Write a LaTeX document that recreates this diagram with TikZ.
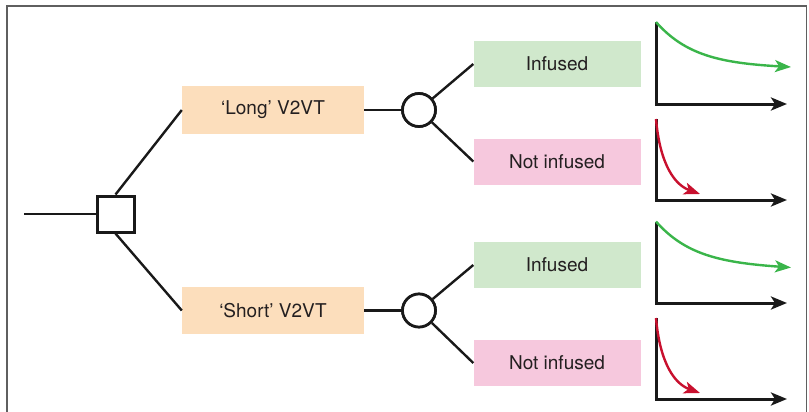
\documentclass[tikz,border=0pt]{standalone}
\usepackage{fontspec}
\setmainfont{TeX Gyre Heros}
\usetikzlibrary{arrows.meta}
\definecolor{framec}{RGB}{95,95,95}
\definecolor{txt}{RGB}{35,31,32}
\definecolor{peach}{RGB}{252,222,188}
\definecolor{boxgreen}{RGB}{208,232,204}
\definecolor{boxpink}{RGB}{246,200,221}
\definecolor{curvegreen}{RGB}{58,181,74}
\definecolor{curvered}{RGB}{200,16,46}
\tikzset{
  optbox/.style={fill=peach, draw=none, minimum width=182pt, minimum height=47pt, inner sep=0pt, text=txt, font=\fontsize{19}{22}\selectfont},
  infbox/.style={fill=boxgreen, draw=none, minimum width=167pt, minimum height=46pt, inner sep=0pt, text=txt, font=\fontsize{19}{22}\selectfont},
  notbox/.style={fill=boxpink, draw=none, minimum width=167pt, minimum height=46pt, inner sep=0pt, text=txt, font=\fontsize{19}{22}\selectfont},
  decsq/.style={draw=black!90, line width=3pt, minimum width=37pt, minimum height=36pt, inner sep=0pt},
  chance/.style={circle, draw=black!90, line width=2.7pt, minimum size=33pt, inner sep=0pt},
  link/.style={draw=black!90, line width=2.4pt},
  axes/.style={draw=black!90, line width=3pt, -{Stealth[length=16pt,width=13pt,inset=4pt]}},
  gcurve/.style={draw=curvegreen, line width=2.4pt, -{Stealth[length=16pt,width=12pt,inset=4pt]}},
  rcurve/.style={draw=curvered, line width=2.4pt, -{Stealth[length=16pt,width=12pt,inset=4pt]}},
}
\begin{document}
\begin{tikzpicture}[x=1pt,y=-1pt]
\useasboundingbox (0,0) rectangle (809,412);
\draw[framec, line width=1.8pt] (7,430) -- (7,6) -- (806.5,6) -- (806.5,430);

\coordinate (root) at (24,214);
\node[decsq] (sq) at (115.5,214) {};
\node[optbox] (long) at (273,110) {‘Long’ V2VT};
\node[optbox] (short) at (273,310.5) {‘Short’ V2VT};
\node[chance] (c1) at (419,110) {};
\node[chance] (c2) at (419,310.5) {};
\node[infbox] (i1) at (557,64) {Infused};
\node[notbox] (n1) at (557,161.5) {Not infused};
\node[infbox] (i2) at (557,265) {Infused};
\node[notbox] (n2) at (557,363) {Not infused};

\draw[link] (root) -- (sq.west);
\draw[link] (sq.north) -- (long.west);
\draw[link] (sq.south) -- (short.west);
\draw[link] (long.east) -- (c1);
\draw[link] (short.east) -- (c2);
\draw[link] (c1) -- (i1.west);
\draw[link] (c1) -- (n1.west);
\draw[link] (c2) -- (i2.west);
\draw[link] (c2) -- (n2.west);
\fill[white] (c1) circle (15.5pt);
\fill[white] (c2) circle (15.5pt);
\node[chance] at (c1) {};
\node[chance] at (c2) {};

% chart 1
\coordinate (a1t) at (656,22);
\coordinate (a1o) at (656,104);
\coordinate (a1x) at (787,104);
\draw[axes] (a1t) -- (a1o) -- (a1x);
\draw[gcurve] (a1t) .. controls (685,55) and (720,63) .. (791,67);
% chart 2
\coordinate (a2t) at (656,119);
\coordinate (a2o) at (656,200);
\coordinate (a2x) at (787,200);
\draw[axes] (a2t) -- (a2o) -- (a2x);
\draw[rcurve] (a2t) .. controls (660,165) and (675,185) .. (700,194);
% chart 3
\coordinate (a3t) at (656,221.5);
\coordinate (a3o) at (656,303);
\coordinate (a3x) at (787,303);
\draw[axes] (a3t) -- (a3o) -- (a3x);
\draw[gcurve] (a3t) .. controls (685,254.5) and (720,262.5) .. (791,267.5);
% chart 4
\coordinate (a4t) at (656,318);
\coordinate (a4o) at (656,399);
\coordinate (a4x) at (787,399);
\draw[axes] (a4t) -- (a4o) -- (a4x);
\draw[rcurve] (a4t) .. controls (660,364) and (675,384) .. (700,393);
\end{tikzpicture}
\end{document}
